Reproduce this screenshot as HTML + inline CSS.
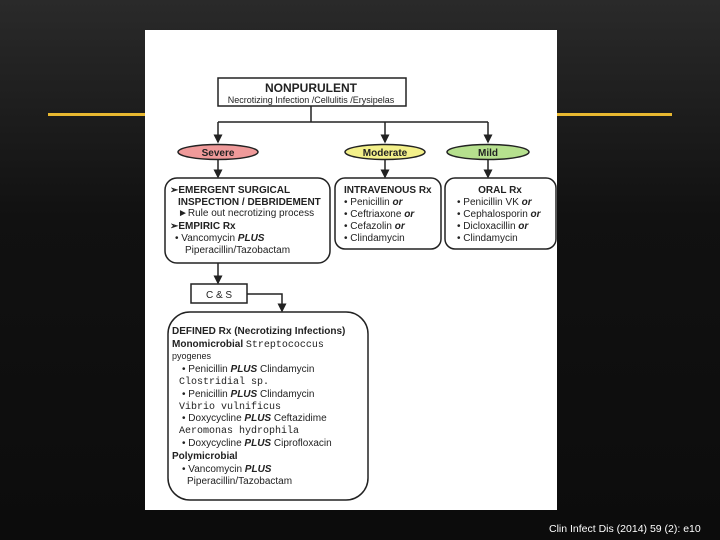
<!DOCTYPE html>
<html><head><meta charset="utf-8"><style>
html,body{margin:0;padding:0}
body{width:720px;height:540px;overflow:hidden;background:linear-gradient(#2a2a2a,#111 40%,#0c0c0c);position:relative;font-family:"Liberation Sans",sans-serif}
svg text{font-family:"Liberation Sans",sans-serif;font-size:10px;fill:#222}
.m{font-family:"Liberation Mono",monospace}
</style></head><body>
<div style="position:absolute;left:48px;top:113px;width:624px;height:3px;background:#e8b830"></div>
<div style="position:absolute;left:145px;top:30px;width:412px;height:480px;background:#fff"></div>
<svg width="720" height="540" style="position:absolute;left:0;top:0">
<defs><marker id="a" markerWidth="6" markerHeight="6" refX="5" refY="3" orient="auto"><path d="M0,0L6,3L0,6z" fill="#222"/></marker></defs>
<g stroke="#222" stroke-width="1.5" fill="none">
<rect x="218" y="78" width="188" height="28" fill="#fff"/>
<path d="M311,106V122M218,122H488"/>
<path d="M218,122V142" marker-end="url(#a)"/>
<path d="M385,122V142" marker-end="url(#a)"/>
<path d="M488,122V142" marker-end="url(#a)"/>
<ellipse cx="218" cy="152" rx="40" ry="7.5" fill="#ef9a9a"/>
<ellipse cx="385" cy="152" rx="40" ry="7.5" fill="#f3f08a"/>
<ellipse cx="488" cy="152" rx="41" ry="7.5" fill="#b6e08e"/>
<path d="M218,160V177" marker-end="url(#a)"/>
<path d="M385,160V177" marker-end="url(#a)"/>
<path d="M488,160V177" marker-end="url(#a)"/>
<rect x="165" y="178" width="165" height="85" rx="12"/>
<rect x="335" y="178" width="106" height="71" rx="10"/>
<rect x="445" y="178" width="111" height="71" rx="10"/>
<path d="M218,263V283" marker-end="url(#a)"/>
<rect x="191" y="284" width="56" height="19"/>
<path d="M247,294H282V311" marker-end="url(#a)"/>
<rect x="168" y="312" width="200" height="188" rx="22"/>
</g>
<text x="311" y="92" text-anchor="middle" style="font-size:12px;font-weight:bold">NONPURULENT</text>
<text x="311" y="103" text-anchor="middle" style="font-size:9px">Necrotizing Infection /Cellulitis /Erysipelas</text>
<text x="218" y="156" text-anchor="middle" font-weight="bold">Severe</text>
<text x="385" y="156" text-anchor="middle" font-weight="bold">Moderate</text>
<text x="488" y="156" text-anchor="middle" font-weight="bold">Mild</text>
<g style="font-size:9.5px">
<text x="170" y="193" font-weight="bold">➢EMERGENT SURGICAL</text>
<text x="178" y="205" font-weight="bold">INSPECTION / DEBRIDEMENT</text>
<text x="178" y="216">►Rule out necrotizing process</text>
<text x="170" y="229" font-weight="bold">➢EMPIRIC Rx</text>
<text x="175" y="241">•  Vancomycin <tspan font-weight="bold" font-style="italic">PLUS</tspan></text>
<text x="185" y="253">Piperacillin/Tazobactam</text>
<text x="344" y="193" font-weight="bold">INTRAVENOUS Rx</text>
<text x="344" y="205">• Penicillin <tspan font-weight="bold" font-style="italic">or</tspan></text>
<text x="344" y="217">• Ceftriaxone <tspan font-weight="bold" font-style="italic">or</tspan></text>
<text x="344" y="229">• Cefazolin <tspan font-weight="bold" font-style="italic">or</tspan></text>
<text x="344" y="241">• Clindamycin</text>
<text x="500" y="193" text-anchor="middle" font-weight="bold">ORAL Rx</text>
<text x="457" y="205">• Penicillin VK  <tspan font-weight="bold" font-style="italic">or</tspan></text>
<text x="457" y="217">• Cephalosporin <tspan font-weight="bold" font-style="italic">or</tspan></text>
<text x="457" y="229">• Dicloxacillin <tspan font-weight="bold" font-style="italic">or</tspan></text>
<text x="457" y="241">• Clindamycin</text>
<text x="219" y="298" text-anchor="middle" style="font-size:10px">C &amp; S</text>
<text x="172" y="334" font-weight="bold">DEFINED Rx (Necrotizing Infections)</text>
<text x="172" y="347" font-weight="bold">Monomicrobial <tspan class="m" font-weight="normal">Streptococcus</tspan></text>
<text x="172" y="359" style="font-size:9px">pyogenes</text>
<text x="182" y="372">• Penicillin <tspan font-weight="bold" font-style="italic">PLUS</tspan> Clindamycin</text>
<text x="179" y="384" class="m">Clostridial sp.</text>
<text x="182" y="397">• Penicillin <tspan font-weight="bold" font-style="italic">PLUS</tspan> Clindamycin</text>
<text x="179" y="409" class="m">Vibrio vulnificus</text>
<text x="182" y="421">• Doxycycline <tspan font-weight="bold" font-style="italic">PLUS</tspan> Ceftazidime</text>
<text x="179" y="433" class="m">Aeromonas hydrophila</text>
<text x="182" y="446">• Doxycycline <tspan font-weight="bold" font-style="italic">PLUS</tspan> Ciprofloxacin</text>
<text x="172" y="459" font-weight="bold">Polymicrobial</text>
<text x="182" y="472">• Vancomycin <tspan font-weight="bold" font-style="italic">PLUS</tspan></text>
<text x="187" y="484">Piperacillin/Tazobactam</text>
</g>
<text x="549" y="532" style="font-size:10.5px;fill:#fff">Clin Infect Dis (2014) 59 (2): e10</text>
</svg>
</body></html>
